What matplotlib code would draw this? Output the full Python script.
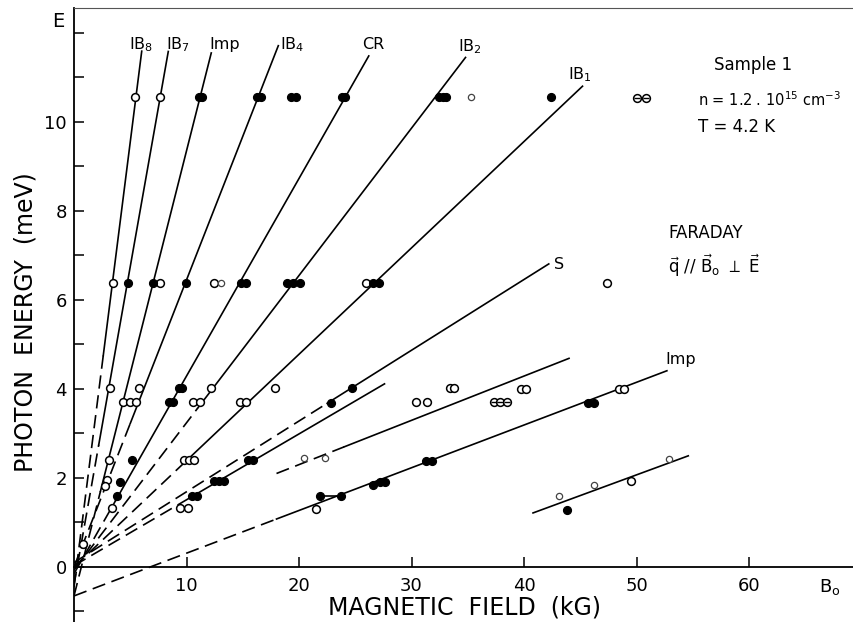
import matplotlib.pyplot as plt
from matplotlib.ticker import MultipleLocator

plt.rcParams['font.family'] = ['DejaVu Sans']
plt.rcParams['mathtext.fontset'] = 'dejavusans'

# fitted lines: label, slope (meV/kG), intercept (meV), start of solid part, end (kG)
line_names = ['IB$_8$', 'IB$_7$', 'Imp', 'IB$_4$', 'CR', 'IB$_2$', 'IB$_1$', 'S', '']
line_slope = [2.0, 1.43, 1.0, 0.645, 0.444, 0.331, 0.239, 0.159, 0.148]
line_icpt = [-0.45, -0.4, -0.65, 0.0, -0.15, -0.07, 0.0, 0.1, 0.03]
line_solid = [2.6, 2.2, 2.35, 5.0, 3.7, 11.0, 10.0, 22.5, 10.3]
line_end = [6.02, 8.38, 12.2, 18.16, 26.2, 34.8, 45.2, 42.2, 27.6]
label_B = [5.95, 9.24, 13.35, 19.4, 26.6, 35.2, 45.0, 43.1, 0]
label_E = [11.73, 11.73, 11.73, 11.73, 11.73, 11.69, 11.06, 6.79, 0]

# lower lines that do not run into the origin
low_slope = [0.0995, 0.096, 0.093]
low_icpt = [0.31, -0.65, -2.58]
low_dash_from = [18.0, 0.0, None]
low_solid = [24.0, 18.0, 40.8]
low_end = [44.0, 52.7, 54.6]

# measured points (B in kG, E in meV)
open_B = [5.42, 7.64, 3.44, 7.64, 12.4, 25.96, 47.35,
          3.2, 5.8, 12.2, 17.9, 33.4, 33.8, 39.7, 40.2, 48.4, 48.9,
          4.38, 4.98, 5.5, 10.55, 11.2, 14.75, 15.26, 30.4, 31.4,
          3.14, 9.78, 10.25, 10.7, 2.9, 2.76, 49.5,
          3.35, 9.4, 10.1, 21.5, 0.83]
open_E = [10.55, 10.55, 6.37, 6.37, 6.37, 6.37, 6.38,
          4.03, 4.03, 4.03, 4.03, 4.02, 4.02, 4.0, 4.0, 4.0, 4.0,
          3.7, 3.7, 3.7, 3.7, 3.7, 3.7, 3.7, 3.71, 3.71,
          2.4, 2.4, 2.4, 2.4, 1.95, 1.82, 1.94,
          1.32, 1.32, 1.32, 1.3, 0.52]

cross_B = [50.0, 50.8, 37.3, 37.9, 38.5]
cross_E = [10.53, 10.53, 3.7, 3.7, 3.7]

dot_B = [35.3, 13.1, 20.4, 22.3, 43.1, 46.25, 52.9]
dot_E = [10.55, 6.37, 2.44, 2.44, 1.6, 1.84, 2.42]

fill_B = [11.1, 11.4, 16.3, 16.6, 19.3, 19.7, 23.8, 24.1, 32.4, 32.8, 33.1, 42.4,
          4.77, 7.0, 9.96, 14.8, 15.3, 18.95, 19.5, 20.1, 26.6, 27.1,
          9.3, 9.6, 24.7,
          8.4, 8.8, 22.8, 45.7, 46.2,
          5.19, 15.5, 15.9, 31.3, 31.8,
          4.1, 12.4, 12.9, 13.3, 26.6, 27.2, 27.6,
          3.85, 10.5, 10.9, 43.85]
fill_E = [10.55] * 12 + \
         [6.37] * 10 + \
         [4.03, 4.03, 4.02] + \
         [3.7, 3.7, 3.69, 3.68, 3.68] + \
         [2.4, 2.4, 2.4, 2.39, 2.39] + \
         [1.92, 1.93, 1.93, 1.93, 1.85, 1.92, 1.92] + \
         [1.6, 1.6, 1.6, 1.27]

pair_B = [21.9, 23.7]
pair_E = [1.6, 1.6]

fig = plt.figure(figsize=(8.54, 6.22), dpi=100)
ax = fig.add_axes([74 / 854, 0, 1 - 74 / 854, 1 - 8 / 622])
ax.set_xlim(0, 69.33)
ax.set_ylim(-1.236, 12.56)

dash = (0, (8, 4))
lw = 1.2
for i in range(len(line_slope)):
    s, c = line_slope[i], line_icpt[i]
    b1, b2 = line_solid[i], line_end[i]
    ax.plot([0, b1], [c, s * b1 + c], color='black', lw=lw, ls=dash, zorder=2)
    ax.plot([b1, b2], [s * b1 + c, s * b2 + c], color='black', lw=lw, zorder=2)
    if line_names[i]:
        ax.text(label_B[i], label_E[i], line_names[i], fontsize=11.5,
                ha='center', va='center')

for i in range(len(low_slope)):
    s, c = low_slope[i], low_icpt[i]
    b1, b2 = low_solid[i], low_end[i]
    if low_dash_from[i] is not None:
        b0 = low_dash_from[i]
        ax.plot([b0, b1], [s * b0 + c, s * b1 + c], color='black', lw=lw,
                ls=dash, zorder=2, clip_on=False)
    ax.plot([b1, b2], [s * b1 + c, s * b2 + c], color='black', lw=lw, zorder=2)
ax.text(53.95, 4.67, 'Imp', fontsize=11.5, ha='center', va='center')

ms = 5.6
ax.plot(open_B, open_E, 'o', ms=ms, mfc='white', mec='black', mew=1.1, zorder=3)
ax.plot(cross_B, cross_E, 'o', ms=ms, mfc='white', mec='black', mew=1.1, zorder=3)
ax.plot(cross_B, cross_E, '_', ms=ms - 1, mec='black', mew=1.0, zorder=4)
ax.plot(dot_B, dot_E, 'o', ms=4.5, mfc='white', mec='#444444', mew=0.9, zorder=3)
ax.plot(fill_B, fill_E, 'o', ms=ms, mfc='black', mec='black', zorder=3)
ax.plot(pair_B, pair_E, '-o', ms=ms, color='black', lw=lw, zorder=3)

# axes look
ax.spines['right'].set_visible(False)
ax.spines['top'].set_linewidth(0.8)
ax.spines['top'].set_color('#555555')
ax.spines['bottom'].set_position(('data', 0))
ax.spines['left'].set_linewidth(1.3)
ax.spines['bottom'].set_linewidth(1.3)

ax.set_xticks([10, 20, 30, 40, 50, 60])
ax.set_yticks([0, 2, 4, 6, 8, 10, 12])
ax.set_yticklabels(['0', '2', '4', '6', '8', '10', ''])
ax.yaxis.set_minor_locator(MultipleLocator(1))
ax.tick_params(axis='both', which='both', direction='in', length=7, width=1.1,
               labelsize=13, pad=5)
ax.tick_params(axis='x', pad=7)

ax.text(-1.42, 12.25, 'E', fontsize=14, ha='center', va='center', clip_on=False)
ax.text(67.2, -0.45, 'B$_\\mathrm{o}$', fontsize=13, ha='center', va='center')
fig.text(465 / 854, 1 - 607 / 622, 'MAGNETIC  FIELD  (kG)', fontsize=17,
         ha='center', va='center')
fig.text(26 / 854, 1 - 322 / 622, 'PHOTON  ENERGY  (meV)', fontsize=17,
         ha='center', va='center', rotation=90)

fig.text(753 / 854, 1 - 65 / 622, 'Sample 1', fontsize=12, ha='center', va='center')
fig.text(698 / 854, 1 - 100 / 622, 'n = 1.2 . 10$^{15}$ cm$^{-3}$', fontsize=10.5,
         ha='left', va='center')
fig.text(698 / 854, 1 - 127 / 622, 'T = 4.2 K', fontsize=12, ha='left', va='center')
fig.text(668 / 854, 1 - 233 / 622, 'FARADAY', fontsize=12, ha='left', va='center')
fig.text(668 / 854, 1 - 266 / 622,
         r'$\vec{\mathrm{q}}$ // $\vec{\mathrm{B}}_\mathrm{o}$ $\perp$ $\vec{\mathrm{E}}$',
         fontsize=12, ha='left', va='center')

fig.savefig('out.png', dpi=100)
